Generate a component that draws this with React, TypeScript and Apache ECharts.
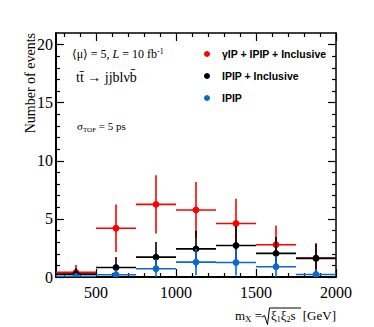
import React, { useEffect, useRef } from "react";
import * as echarts from "echarts";

// ---- data ----
const binLow = [250, 500, 750, 1000, 1250, 1500, 1750];
const binHigh = [500, 750, 1000, 1250, 1500, 1750, 2000];

const redName = "γIP + IPIP + Inclusive";
const redValues = [0.4, 4.2, 6.25, 5.77, 4.6, 2.77, 1.63];
const redErrors = [0.63, 2.05, 2.5, 2.4, 2.14, 1.66, 1.28];

const blackName = "IPIP + Inclusive";
const blackValues = [0.25, 0.82, 1.71, 2.42, 2.71, 2.03, 1.6];
const blackErrors = [0.5, 0.9, 1.31, 1.56, 1.65, 1.42, 1.26];

const blueName = "IPIP";
const blueValues = [0.05, 0.2, 0.71, 1.28, 1.25, 0.88, 0.22];
const blueErrors = [0.22, 0.45, 0.84, 1.13, 1.12, 0.94, 0.47];

const xMajorTicks = [500, 1000, 1500, 2000];
const xMinorTicks = [300, 400, 600, 700, 800, 900, 1100, 1200, 1300, 1400, 1600, 1700, 1800, 1900];
const yMajorTicks = [0, 5, 10, 15, 20];
const yMinorTicks = [1, 2, 3, 4, 6, 7, 8, 9, 11, 12, 13, 14, 16, 17, 18, 19];

const X_MIN = 250;
const X_MAX = 2000;
const Y_MIN = 0;
const Y_MAX = 21;

const RED = "#ff0000";
const BLACK = "#000000";
const BLUE = "#0b68cf";
const SERIF = "'Liberation Serif', 'DejaVu Serif', serif";
const SANS = "'Liberation Sans', Arial, sans-serif";

function buildData(values: number[], errors: number[]) {
  return values.map((v, i) => [binLow[i], binHigh[i], v, errors[i]]);
}

function makeRender(color: string) {
  return (params: any, api: any) => {
    const lo = api.value(0);
    const hi = api.value(1);
    const v = api.value(2);
    const e = api.value(3);
    const xc = (lo + hi) / 2;
    const pLo = api.coord([lo, v]);
    const pHi = api.coord([hi, v]);
    const pTop = api.coord([xc, v + e]);
    const pBot = api.coord([xc, Math.max(Y_MIN, v - e)]);
    const c = api.coord([xc, v]);
    return {
      type: "group",
      children: [
        {
          type: "line",
          shape: { x1: pLo[0], y1: pLo[1], x2: pHi[0], y2: pHi[1] },
          style: { stroke: color, lineWidth: 1.6 },
        },
        {
          type: "line",
          shape: { x1: pTop[0], y1: pTop[1], x2: pBot[0], y2: pBot[1] },
          style: { stroke: color, lineWidth: 1.6 },
        },
        {
          type: "circle",
          shape: { cx: c[0], cy: c[1], r: 3.4 },
          style: { fill: color },
        },
      ],
    };
  };
}

const plainNumber = (v: number) => String(v);

function xAxisDef(position: "top" | "bottom", major: boolean, lineWidth: number, showLabels: boolean) {
  return {
    type: "value",
    min: X_MIN,
    max: X_MAX,
    position,
    axisLine: { show: major, onZero: false, lineStyle: { color: "#000", width: lineWidth } },
    axisTick: {
      show: true,
      inside: true,
      length: major ? 8 : 4,
      customValues: major ? xMajorTicks : xMinorTicks,
      lineStyle: { color: "#000", width: 1.2 },
    },
    axisLabel: showLabels
      ? {
          show: true,
          customValues: xMajorTicks,
          formatter: plainNumber,
          fontSize: 16,
          fontFamily: SERIF,
          color: "#000",
          margin: 7,
        }
      : { show: false },
    splitLine: { show: false },
  };
}

function yAxisDef(position: "left" | "right", major: boolean, lineWidth: number, showLabels: boolean) {
  return {
    type: "value",
    min: Y_MIN,
    max: Y_MAX,
    position,
    axisLine: { show: major, onZero: false, lineStyle: { color: "#000", width: lineWidth } },
    axisTick: {
      show: true,
      inside: true,
      length: major ? 8 : 4,
      customValues: major ? yMajorTicks : yMinorTicks,
      lineStyle: { color: "#000", width: 1.2 },
    },
    axisLabel: showLabels
      ? {
          show: true,
          customValues: yMajorTicks,
          formatter: plainNumber,
          fontSize: 16,
          fontFamily: SERIF,
          color: "#000",
          margin: 3,
        }
      : { show: false },
    splitLine: { show: false },
  };
}

export default function App() {
  const ref = useRef<HTMLDivElement>(null);

  useEffect(() => {
    if (!ref.current) return;
    const chart = echarts.init(ref.current, undefined, { renderer: "svg" });
    const option: any = {
      animation: false,
      backgroundColor: "#ffffff",
      grid: { left: 56, right: 38, top: 33, bottom: 50, containLabel: false },
      xAxis: [
        xAxisDef("bottom", true, 2, true),
        xAxisDef("bottom", false, 2, false),
        xAxisDef("top", true, 1.5, false),
        xAxisDef("top", false, 1.5, false),
      ],
      yAxis: [
        yAxisDef("left", true, 2, true),
        yAxisDef("left", false, 2, false),
        yAxisDef("right", true, 1.5, false),
        yAxisDef("right", false, 1.5, false),
      ],
      legend: {
        orient: "vertical",
        left: 199,
        top: 42,
        padding: [5, 5, 5, 5],
        itemWidth: 6,
        itemHeight: 6,
        itemGap: 8,
        icon: "circle",
        data: [redName, blackName, blueName],
        textStyle: {
          fontSize: 10.5,
          fontWeight: "bold",
          fontFamily: SANS,
          color: "#000",
          lineHeight: 14,
          padding: [0, 0, 0, 7],
        },
      },
      series: [
        {
          name: redName,
          type: "custom",
          xAxisIndex: 0,
          yAxisIndex: 0,
          itemStyle: { color: RED },
          renderItem: makeRender(RED),
          data: buildData(redValues, redErrors),
          clip: true,
        },
        {
          name: blackName,
          type: "custom",
          xAxisIndex: 0,
          yAxisIndex: 0,
          itemStyle: { color: BLACK },
          renderItem: makeRender(BLACK),
          data: buildData(blackValues, blackErrors),
          clip: true,
        },
        {
          name: blueName,
          type: "custom",
          xAxisIndex: 0,
          yAxisIndex: 0,
          itemStyle: { color: BLUE },
          renderItem: makeRender(BLUE),
          data: buildData(blueValues, blueErrors),
          clip: true,
        },
      ],
      graphic: [
        {
          type: "text",
          x: 30,
          y: 33,
          rotation: Math.PI / 2,
          style: {
            text: "Number of events",
            fontSize: 14,
            fontFamily: SERIF,
            fill: "#000",
            align: "right",
            verticalAlign: "middle",
          },
        },
        {
          type: "text",
          x: 72,
          y: 54,
          style: {
            text: "⟨μ⟩ = 5, {i|L} = 10 fb{sup|-1}",
            fontSize: 12,
            fontFamily: SERIF,
            fill: "#000",
            verticalAlign: "middle",
            lineHeight: 14,
            rich: {
              i: { fontSize: 12, fontStyle: "italic", fontFamily: SERIF, lineHeight: 14 },
              sup: { fontSize: 8, fontFamily: SERIF, verticalAlign: "top", lineHeight: 8 },
            },
          },
        },
        {
          type: "text",
          x: 76,
          y: 77,
          style: {
            text: "tt\u0304 → jjblνb\u0304",
            fontSize: 14,
            fontFamily: SERIF,
            fill: "#000",
            verticalAlign: "middle",
          },
        },
        {
          type: "text",
          x: 77,
          y: 126,
          style: {
            text: "σ{sub|TOF} = 5 ps",
            fontSize: 11,
            fontFamily: SERIF,
            fill: "#000",
            verticalAlign: "middle",
            lineHeight: 14,
            rich: {
              sub: { fontSize: 7, fontFamily: SERIF, verticalAlign: "bottom", lineHeight: 7 },
            },
          },
        },
        {
          type: "text",
          x: 235,
          y: 315,
          style: {
            text: "m{sub|X} =",
            fontSize: 13,
            fontFamily: SERIF,
            fill: "#000",
            verticalAlign: "middle",
            lineHeight: 16,
            rich: {
              sub: { fontSize: 9, fontFamily: SERIF, verticalAlign: "bottom", lineHeight: 9 },
            },
          },
        },
        {
          type: "polyline",
          shape: {
            points: [
              [262, 317],
              [264.5, 315.5],
              [267.5, 324.5],
              [269.5, 308],
              [301, 308],
            ],
          },
          style: { stroke: "#000", lineWidth: 1, fill: null },
        },
        {
          type: "text",
          x: 271,
          y: 315,
          style: {
            text: "ξ{sub|1}ξ{sub|2}s",
            fontSize: 13,
            fontFamily: SERIF,
            fill: "#000",
            verticalAlign: "middle",
            lineHeight: 16,
            rich: {
              sub: { fontSize: 8, fontFamily: SERIF, verticalAlign: "bottom", lineHeight: 8 },
            },
          },
        },
        {
          type: "text",
          x: 336,
          y: 315,
          style: {
            text: "[GeV]",
            fontSize: 13,
            fontFamily: SERIF,
            fill: "#000",
            align: "right",
            verticalAlign: "middle",
          },
        },
      ],
    };
    chart.setOption(option);
    return () => {
      chart.dispose();
    };
  }, []);

  return (
    <div
      ref={ref}
      style={{ position: "fixed", left: 0, top: 0, width: 374, height: 327, background: "#fff" }}
    />
  );
}
